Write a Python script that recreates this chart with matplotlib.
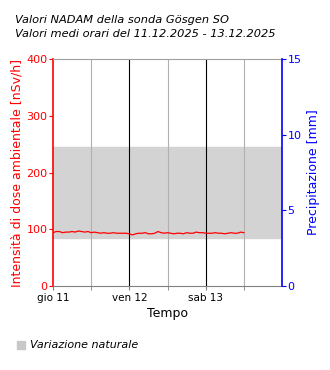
import numpy as np
import matplotlib.pyplot as plt

# hourly mean dose rate [nSv/h], starting 11.12.2025 00:00
dose = [94, 96, 96, 94, 95, 95, 96, 95, 97, 96, 95, 96, 94, 95, 94, 93, 94, 93,
        93, 94, 93, 93, 93, 93, 92, 90, 92, 93, 93, 94, 92, 92, 93, 96, 94, 93,
        94, 93, 92, 93, 93, 92, 94, 93, 93, 95, 94, 94, 93, 93, 93, 94, 93, 93,
        92, 93, 94, 93, 93, 95, 94]
band = [85, 245]  # natural variation range
day_labels = ["gio 11", "ven 12", "sab 13"]

hours = np.arange(len(dose))

fig = plt.figure(figsize=(3.3, 3.7), dpi=100)
ax = fig.add_axes([0.1606, 0.227, 0.694, 0.6135])

ax.axhspan(band[0], band[1], color="#d3d3d3", zorder=0)
for h in [12, 36, 60]:
    ax.axvline(h, color="#b0b0b0", lw=0.8, zorder=1)
for h in [24, 48]:
    ax.axvline(h, color="black", lw=0.8, zorder=1)
ax.plot(hours, dose, color="red", lw=0.9, zorder=3)

ax.set_xlim(0, 72)
ax.set_ylim(0, 400)
ax.set_xticks([0, 24, 48])
ax.set_xticklabels(day_labels, fontsize=7.5)
ax.set_xticks([12, 36, 60], minor=True)
ax.tick_params(axis="x", which="both", length=3, color="#808080", pad=2)
ax.set_yticks([0, 100, 200, 300, 400])
ax.tick_params(axis="y", colors="red", labelsize=8, length=3, pad=1)
ax.set_ylabel("Intensità di dose ambientale [nSv/h]", color="red", fontsize=9, labelpad=2)
ax.set_xlabel("Tempo", fontsize=9, labelpad=3)
ax.spines["left"].set_color("red")
ax.spines["left"].set_linewidth(1.2)
ax.spines["top"].set_color("#a0a0a0")
ax.spines["bottom"].set_color("#808080")
ax.spines["right"].set_visible(False)

ax2 = ax.twinx()
ax2.set_ylim(0, 15)
ax2.set_yticks([0, 5, 10, 15])
ax2.tick_params(axis="y", colors="blue", labelsize=8, length=3, pad=1)
ax2.set_ylabel("Precipitazione [mm]", color="blue", fontsize=9, labelpad=4)
ax2.spines["right"].set_color("blue")
ax2.spines["right"].set_linewidth(1.2)
for s in ["left", "top", "bottom"]:
    ax2.spines[s].set_visible(False)

fig.text(0.045, 0.946, "Valori NADAM della sonda Gösgen SO", fontsize=8.2, style="italic", va="center")
fig.text(0.045, 0.908, "Valori medi orari del 11.12.2025 - 13.12.2025", fontsize=8.2, style="italic", va="center")

fig.patches.append(plt.Rectangle((0.052, 0.057), 0.024, 0.022, color="#c8c8c8",
                                 transform=fig.transFigure, figure=fig))
fig.text(0.09, 0.068, "Variazione naturale", fontsize=8, style="italic", va="center")

fig.savefig("out.png", dpi=100)
